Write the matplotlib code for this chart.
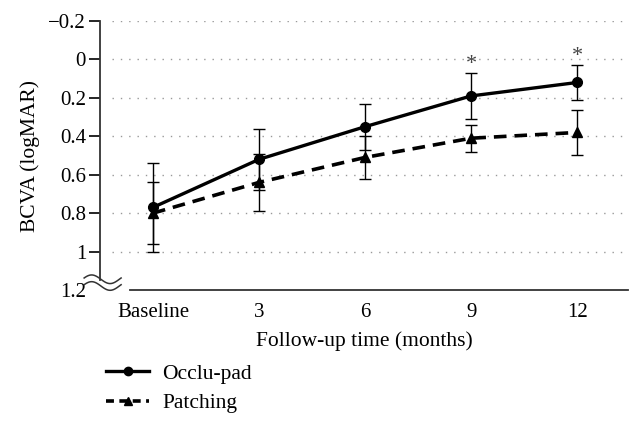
import numpy as np
import matplotlib.pyplot as plt
from matplotlib.lines import Line2D

# --- datos ---
time_labels = ["Baseline", "3", "6", "9", "12"]
occlu_mean = [0.77, 0.52, 0.35, 0.19, 0.12]
occlu_err = [0.23, 0.16, 0.12, 0.12, 0.09]
patch_mean = [0.80, 0.64, 0.51, 0.41, 0.38]
patch_err = [0.16, 0.15, 0.11, 0.07, 0.115]
signif = [False, False, False, True, True]
y_ticks = [-0.2, 0, 0.2, 0.4, 0.6, 0.8, 1, 1.2]
y_tick_labels = ["\u22120.2", "0", "0.2", "0.4", "0.6", "0.8", "1", "1.2"]

plt.rcParams['font.family'] = ['Liberation Serif', 'DejaVu Serif']

fig = plt.figure(figsize=(6.43, 4.25), dpi=100)
ax = fig.add_axes([0.1555, 0.3176, 0.8212, 0.633])

x = np.arange(len(time_labels))

# lineas de cuadricula punteadas
ax.hlines(y_ticks[:-1], -0.39, 4.48, colors="#999999", linestyles=(0, (1, 5)), lw=1.0, zorder=0)

ax.errorbar(x, occlu_mean, yerr=occlu_err, color="black", lw=2.4, marker="o", ms=7,
            ecolor="black", elinewidth=1.0, capsize=4, capthick=1.0, label="Occlu-pad", zorder=3)
ax.errorbar(x, patch_mean, yerr=patch_err, color="black", lw=2.6, ls=(0, (3.5, 2.2)), marker="^", ms=7,
            ecolor="black", elinewidth=1.0, capsize=4, capthick=1.0, label="Patching", zorder=3)

# asteriscos de significancia
for xi, m, e, s in zip(x, occlu_mean, occlu_err, signif):
    if s:
        ax.text(xi, m - e + 0.005, "*", ha="center", va="bottom", fontsize=16, color="#444444")

ax.set_xlim(-0.5, 4.48)
ax.set_ylim(1.2, -0.2)
ax.set_yticks(y_ticks)
ax.set_yticklabels(y_tick_labels, fontsize=15)
ax.set_xticks(x)
ax.set_xticklabels(time_labels, fontsize=15)
ax.tick_params(axis="x", length=0, pad=9)
ax.tick_params(axis="y", length=8, width=1.2, direction="out", pad=2)
ax.yaxis.get_major_ticks()[-1].tick1line.set_visible(False)

for sp in ["top", "right"]:
    ax.spines[sp].set_visible(False)
ax.spines["left"].set_bounds(-0.2, 1.15)
ax.spines["left"].set_linewidth(1.3)
ax.spines["left"].set_color("#333333")
ax.spines["bottom"].set_bounds(-0.22, 4.48)
ax.spines["bottom"].set_linewidth(1.3)
ax.spines["bottom"].set_color("#333333")

# simbolo de corte en el eje
t = np.linspace(0, 1, 60)
wx = -0.03 + 0.07 * t
for off in (0.0, 0.025):
    wy = 0.04 - off + 0.016 * np.sin(2 * np.pi * t + 0.3)
    ax.plot(wx, wy, transform=ax.transAxes, color="#333333", lw=1.1, clip_on=False)

ax.set_ylabel("BCVA (logMAR)", fontsize=15.5, labelpad=6)
ax.set_xlabel("Follow-up time (months)", fontsize=15.5, labelpad=7)

handles = [Line2D([], [], color="black", lw=2.4, marker="o", ms=6),
           Line2D([], [], color="black", lw=2.6, ls=(0, (2.2, 1.5)), marker="^", ms=6)]
fig.legend(handles, ["Occlu-pad", "Patching"], loc="upper left", bbox_to_anchor=(0.152, 0.165),
           frameon=False, fontsize=15.5, handlelength=2.0, labelspacing=0.45, handletextpad=0.6,
           borderaxespad=0)

fig.savefig("out.png", dpi=100)
